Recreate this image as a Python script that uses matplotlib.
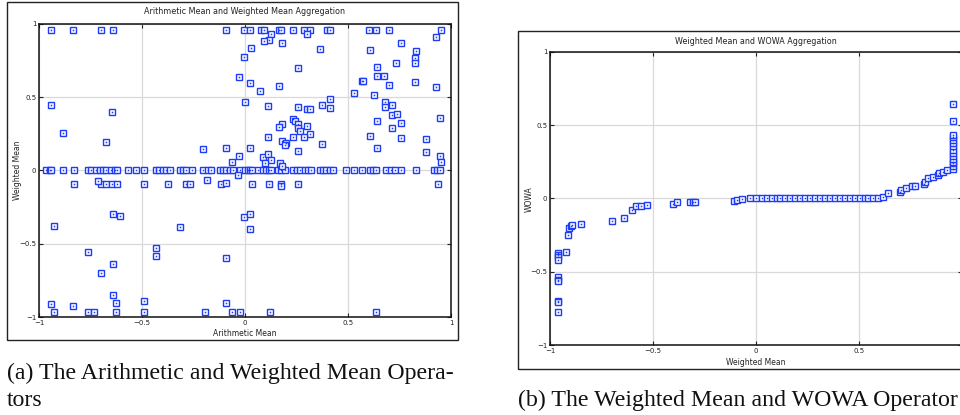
import matplotlib
matplotlib.use("Agg")
import matplotlib.pyplot as plt
from matplotlib.patches import Rectangle

# ---------------- data: left panel (Arithmetic Mean vs Weighted Mean) ----------------
top_row_x = [-0.94, -0.835, -0.70, -0.64, -0.09, -0.006, 0.026, 0.08, 0.092, 0.164,
             0.177, 0.233, 0.285, 0.314, 0.398, 0.411, 0.602, 0.638, 0.698, 0.953]
top_row_y = [0.96] * len(top_row_x)

zero_row_x = [-0.964, -0.948, -0.94, -0.883, -0.832, -0.762, -0.746, -0.721, -0.705, -0.689,
              -0.673, -0.649, -0.633, -0.621, -0.568, -0.53, -0.492, -0.434, -0.418, -0.398,
              -0.382, -0.363, -0.317, -0.301, -0.285, -0.256, -0.204, -0.18, -0.163, -0.123,
              -0.107, -0.09, -0.074, -0.058, -0.026, -0.001, 0.015, 0.023, 0.036, 0.063,
              0.087, 0.1, 0.116, 0.128, 0.16, 0.177, 0.193, 0.233, 0.25, 0.266, 0.29, 0.306,
              0.319, 0.363, 0.379, 0.395, 0.411, 0.427, 0.492, 0.528, 0.568, 0.605, 0.621,
              0.638, 0.683, 0.711, 0.73, 0.759, 0.829, 0.918, 0.932, 0.949]
zero_row_y = [0.0] * len(zero_row_x)

low_row_x = [-0.832, -0.697, -0.673, -0.644, -0.621, -0.492, -0.374, -0.288, -0.265,
             -0.118, -0.09, 0.036, 0.116, 0.177, 0.177, 0.256, 0.937, -0.716, -0.183]
low_row_y = [-0.092, -0.092, -0.092, -0.092, -0.092, -0.092, -0.092, -0.092, -0.092,
             -0.092, -0.087, -0.092, -0.092, -0.092, -0.104, -0.092, -0.092, -0.07, -0.065]

bottom_row_x = [-0.927, -0.762, -0.734, -0.628, -0.492, -0.192, -0.063, -0.026, 0.123, 0.638]
bottom_row_y = [-0.964] * len(bottom_row_x)

scatter_x = [-0.94, -0.883, -0.676, -0.644, -0.204, -0.09, -0.063, -0.029, -0.032,
             0.125, 0.30, 0.115, 0.091, 0.18, 0.028, 0.363, -0.006, 0.256, -0.03, 0.023,
             0.164, 0.075, 0.002, 0.112, 0.256, 0.30, 0.317, 0.374, 0.414, 0.414, 0.233,
             0.245, 0.18, 0.164, 0.257, 0.257, 0.266, 0.30, 0.314, 0.285, 0.233, 0.112,
             0.18, 0.20, 0.193, 0.023, 0.256, 0.374, 0.087, 0.112, 0.125, 0.096, 0.168, 0.18,
             0.605, 0.759, 0.926, 0.832, 0.735, 0.827, 0.827, 0.643, 0.643, 0.673, 0.568,
             0.572, 0.698, 0.827, 0.926, 0.528, 0.625, 0.681, 0.681, 0.715, 0.715, 0.738,
             0.643, 0.759, 0.945, 0.715, 0.605, 0.759, 0.88, 0.643, 0.88, 0.945, 0.953,
             -0.64, -0.605, -0.929, -0.317, -0.006, 0.026, 0.023, -0.762, -0.70, -0.434,
             -0.434, -0.64, -0.09, -0.64, -0.94, -0.835, -0.624, -0.492, -0.09]
scatter_y = [0.447, 0.258, 0.197, 0.40, 0.147, 0.156, 0.06, 0.099, -0.031,
             0.93, 0.93, 0.89, 0.886, 0.868, 0.838, 0.827, 0.777, 0.70, 0.64, 0.60,
             0.58, 0.545, 0.465, 0.44, 0.435, 0.418, 0.418, 0.447, 0.486, 0.424, 0.35,
             0.34, 0.317, 0.30, 0.317, 0.288, 0.27, 0.306, 0.25, 0.23, 0.23, 0.23,
             0.20, 0.19, 0.174, 0.156, 0.135, 0.18, 0.094, 0.113, 0.072, 0.053, 0.053, 0.033,
             0.822, 0.868, 0.913, 0.818, 0.732, 0.766, 0.732, 0.709, 0.647, 0.647, 0.613,
             0.61, 0.584, 0.606, 0.572, 0.531, 0.515, 0.47, 0.431, 0.447, 0.379, 0.386,
             0.34, 0.326, 0.36, 0.288, 0.238, 0.224, 0.215, 0.156, 0.128, 0.101, 0.06,
             -0.297, -0.308, -0.379, -0.384, -0.315, -0.297, -0.40, -0.558, -0.698, -0.527,
             -0.582, -0.638, -0.60, -0.848, -0.913, -0.925, -0.906, -0.891, -0.902]

arith_mean = top_row_x + zero_row_x + low_row_x + bottom_row_x + scatter_x
weighted_mean_a = top_row_y + zero_row_y + low_row_y + bottom_row_y + scatter_y

# ---------------- data: right panel (Weighted Mean vs WOWA) ----------------
weighted_mean_b = [-0.963, -0.963, -0.963, -0.963, -0.963, -0.963, -0.963, -0.963, -0.963, -0.963,
                   -0.924, -0.914, -0.908, -0.90, -0.892, -0.85, -0.698, -0.639, -0.60, -0.583,
                   -0.558, -0.528, -0.404, -0.382, -0.32, -0.304, -0.296, -0.107, -0.091, -0.07,
                   -0.029, 0.0, 0.027, 0.052, 0.076, 0.100, 0.117, 0.141, 0.165, 0.189, 0.214,
                   0.238, 0.262, 0.286, 0.311, 0.335, 0.359, 0.383, 0.408, 0.432, 0.456, 0.48,
                   0.505, 0.529, 0.545, 0.57, 0.594, 0.615,
                   0.642, 0.699, 0.703, 0.727, 0.756, 0.772, 0.816, 0.82, 0.837, 0.858, 0.885,
                   0.89, 0.91, 0.926,
                   0.956, 0.956, 0.956, 0.956, 0.956, 0.956, 0.956, 0.956, 0.956, 0.956, 0.956,
                   0.956, 0.956, 0.956, 0.956]
wowa = [-0.369, -0.384, -0.40, -0.418, -0.537, -0.555, -0.566, -0.698, -0.707, -0.775,
        -0.362, -0.252, -0.198, -0.191, -0.184, -0.175, -0.152, -0.13, -0.077, -0.048,
        -0.048, -0.043, -0.036, -0.027, -0.027, -0.025, -0.025, -0.014, -0.009, -0.002,
        0.0, 0.0, 0.0, 0.0, 0.0, 0.0, 0.0, 0.0, 0.0, 0.0, 0.0,
        0.0, 0.0, 0.0, 0.0, 0.0, 0.0, 0.0, 0.0, 0.0, 0.0, 0.0,
        0.0, 0.0, 0.002, 0.004, 0.006, 0.01,
        0.037, 0.044, 0.059, 0.071, 0.082, 0.082, 0.098, 0.116, 0.139, 0.146, 0.162,
        0.173, 0.184, 0.196,
        0.20, 0.22, 0.24, 0.25, 0.27, 0.29, 0.31, 0.33, 0.36, 0.38, 0.40,
        0.42, 0.435, 0.526, 0.644]

ticks = [-1, -0.5, 0, 0.5, 1]
tick_labels = ["\u22121", "\u22120.5", "0", "0.5", "1"]

# ---------------- figure ----------------
W, H = 960, 415
fig = plt.figure(figsize=(W / 100, H / 100), dpi=100)
fig.patch.set_facecolor("white")

def fx(px):
    return px / W

def fy(py):
    return 1 - py / H

BLUE = "#1e3cf5"

def style(ax, xlabels):
    ax.set_xlim(-1, 1)
    ax.set_ylim(-1, 1)
    ax.set_xticks(ticks)
    ax.set_yticks(ticks)
    ax.set_xticklabels(xlabels)
    ax.set_yticklabels(tick_labels)
    ax.grid(True, color="#d9d9d9", lw=0.9)
    ax.set_axisbelow(True)
    ax.tick_params(direction="in", length=3, width=0.8, labelsize=5, pad=2,
                   top=True, right=True, colors="#222222")
    for s in ax.spines.values():
        s.set_linewidth(1.1)
        s.set_color("#111111")

def scatter(ax, x, y):
    ax.plot(x, y, ls="none", marker="s", ms=4.3, mfc="white", mec=BLUE, mew=1.0,
            clip_on=False)
    ax.plot(x, y, ls="none", marker="s", ms=1.1, mfc=BLUE, mec="none", clip_on=False)

# left axes
ax1 = fig.add_axes([fx(39), fy(317), fx(451) - fx(39), fy(24) - fy(317)])
style(ax1, tick_labels)
scatter(ax1, arith_mean, weighted_mean_a)

# right axes (extends past the right edge, as in the reference; its "1" label is off-canvas)
ax2 = fig.add_axes([fx(550), fy(345), fx(962) - fx(550), fy(52) - fy(345)])
style(ax2, tick_labels[:-1] + [""])
scatter(ax2, weighted_mean_b, wowa)

# outer frames
fig.patches.append(Rectangle((fx(7), fy(340)), fx(458) - fx(7), fy(2) - fy(340),
                             transform=fig.transFigure, fill=False, ec="#222222", lw=1.0))
fig.patches.append(Rectangle((fx(518), fy(369)), fx(970) - fx(518), fy(31) - fy(369),
                             transform=fig.transFigure, fill=False, ec="#222222", lw=1.0))

# titles and labels
fig.text(fx(245), fy(12), "Arithmetic Mean and Weighted Mean Aggregation",
         ha="center", va="center", fontsize=5.8, color="#222222")
fig.text(fx(756), fy(41), "Weighted Mean and WOWA Aggregation",
         ha="center", va="center", fontsize=5.8, color="#222222")
fig.text(fx(245), fy(333), "Arithmetic Mean", ha="center", va="center", fontsize=5.5,
         color="#222222")
fig.text(fx(756), fy(362), "Weighted Mean", ha="center", va="center", fontsize=5.5,
         color="#222222")
fig.text(fx(18), fy(170), "Weighted Mean", ha="center", va="center", rotation=90,
         fontsize=5.5, color="#222222")
fig.text(fx(529), fy(199), "WOWA", ha="center", va="center", rotation=90,
         fontsize=5.5, color="#222222")

# captions
cap = dict(family="Liberation Serif", fontsize=17.2, color="#111111", va="baseline", ha="left")
fig.text(fx(7), fy(379), "(a) The Arithmetic and Weighted Mean Opera-", **cap)
fig.text(fx(7), fy(406), "tors", **cap)
fig.text(fx(518), fy(406), "(b) The Weighted Mean and WOWA Operator", **cap)

fig.savefig("out.png", dpi=100)
